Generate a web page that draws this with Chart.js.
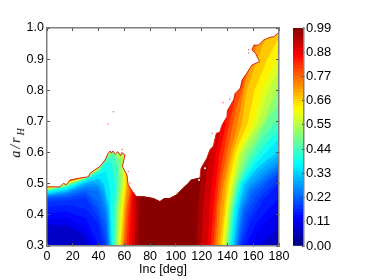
<!DOCTYPE html>
<html>
<head>
<meta charset="utf-8">
<script src="https://cdn.jsdelivr.net/npm/chart.js@4"></script>
<style>
  html, body { margin: 0; padding: 0; background: #fff; }
  #wrap { position: relative; width: 374px; height: 280px; overflow: hidden; }
  #map { position: absolute; left: 0; top: 0; filter: blur(0.4px); }
  #bar { position: absolute; left: 285px; top: 0; filter: blur(0.3px); }
  #ylab { position: absolute; left: -13px; top: 133px; width: 60px; text-align: center;
          transform: rotate(-90deg); font: italic 14px "Liberation Serif"; color: #000; letter-spacing: 2px; }
  #ylab sub { font-size: 10px; }
</style>
</head>
<body>
<div id="wrap">
  <canvas id="map" width="300" height="280"></canvas>
  <canvas id="bar" width="89" height="280"></canvas>
  <div id="ylab">a/r<sub>H</sub></div>
</div>
<script>
// tick labels
const incTicks = [0, 20, 40, 60, 80, 100, 120, 140, 160, 180];
const radiusTicks = [0.3, 0.4, 0.5, 0.6, 0.7, 0.8, 0.9, 1.0];
const colorTicks = [0, 0.11, 0.22, 0.33, 0.44, 0.55, 0.66, 0.77, 0.88, 0.99];

// stability limit [inc, a/rH]
const stabilityEdge = [[0,.49],[10,.49],[12.7,.501],[15,.497],[18,.512],[25.6,.518],[32,.522],[33.5,.534],[37,.544],[41,.555],[45,.576],[47.5,.598],[49,.605],[50,.598],[51,.605],[53,.595],[55,.603],[57,.59],[58,.6],[60.5,.592],[58.5,.555],[62,.528],[63,.496],[66.6,.474],[69.6,.458],[75,.458],[82.5,.452],[87.6,.442],[91,.452],[95,.452],[100.6,.464],[105.6,.485],[109.6,.5],[112,.512],[118.7,.518],[119.5,.55],[124,.582],[126.5,.61],[129,.62],[131.4,.662],[134,.665],[136,.69],[139.6,.715],[140,.735],[144.8,.769],[146,.79],[150,.807],[151.4,.833],[155,.855],[159,.881],[165,.892],[161.7,.919],[159,.93],[160.5,.945],[164,.945],[168,.961],[173,.97],[176,.972],[179,.983],[180,.985]];
const redSpecks = [[51.5,.731],[47.5,.692],[58.4,.61],[63,.539],[64.4,.502],[156.5,.93],[156.5,.92],[168,.96],[141.7,.771],[136.5,.76],[128,.662]];
const whiteSpecks = [[115.6,.555],[122.6,.55],[118,.512],[121,.582]];

// filled contours, one list per level: value stays under the level below the line
const contourLevels = [0.08, 0.12, 0.14, 0.16, 0.18, 0.20, 0.22, 0.24, 0.26, 0.28, 0.30, 0.32, 0.36, 0.40, 0.44, 0.48, 0.52, 0.56, 0.60, 0.64, 0.68, 0.72, 0.76, 0.80, 0.84, 0.88, 0.92, 0.96];
const level08 = [[0,.37],[15,.365],[28,.34],[33,.3],[164,.3],[175,.34],[180,.36]];
const level12 = [[0,.39],[15,.39],[30,.36],[37,.3],[157,.3],[168,.37],[180,.415]];
const level14 = [[0,.405],[15,.41],[30,.39],[38,.32],[40,.3],[154,.3],[162,.37],[170,.41],[180,.455]];
const level16 = [[0,.425],[15,.432],[30,.42],[40,.37],[43,.3],[151,.3],[158,.38],[168,.45],[180,.5]];
const level18 = [[0,.443],[15,.447],[30,.455],[40,.39],[45,.31],[45,.3],[150,.3],[156,.39],[165,.455],[176,.5],[180,.52]];
const level20 = [[0,.451],[15,.455],[30,.468],[40,.415],[45,.34],[46,.3],[149,.3],[154,.4],[162,.46],[173,.51],[180,.535]];
const level22 = [[0,.456],[15,.46],[30,.477],[40,.44],[46,.36],[47,.3],[148.2,.3],[153,.41],[160,.47],[172,.515],[180,.545]];
const level24 = [[0,.459],[15,.465],[30,.484],[40,.475],[46,.39],[47.5,.3],[147.5,.3],[152,.42],[159,.48],[170,.52],[180,.555]];
const level26 = [[0,.461],[15,.469],[30,.49],[40,.49],[46,.42],[48,.3],[146.8,.3],[151,.42],[157,.485],[168,.525],[180,.565]];
const level28 = [[0,.463],[15,.472],[30,.496],[38,.5],[44,.47],[47.5,.39],[48.5,.3],[146,.3],[150,.42],[156,.49],[166,.53],[180,.575]];
const level30 = [[0,.465],[15,.475],[30,.5],[39,.51],[44,.485],[48,.41],[49,.3],[145.2,.3],[149,.42],[154.5,.495],[164.5,.54],[180,.59]];
const level32 = [[0,.467],[15,.479],[30,.505],[40,.517],[44,.5],[48,.43],[49.5,.3],[144.5,.3],[148,.42],[153,.5],[163,.55],[172,.58],[180,.605]];
const level36 = [[0,.473],[15,.485],[30,.511],[40,.53],[46,.54],[49,.48],[50.5,.3],[143,.3],[146,.42],[151,.5],[161,.56],[170,.6],[180,.645]];
const level40 = [[0,.476],[15,.489],[30,.514],[40,.538],[46,.565],[50,.57],[53,.5],[52,.42],[51.5,.3],[142,.3],[145,.42],[149.5,.5],[159,.57],[168,.62],[180,.675]];
const level44 = [[0,.478],[15,.492],[30,.516],[40,.542],[46,.58],[52,.59],[55,.55],[55,.5],[53.5,.42],[52.5,.3],[141,.3],[144,.42],[148,.5],[157,.58],[166,.64],[180,.71]];
const level48 = [[0,.48],[15,.495],[30,.518],[40,.545],[46,.585],[52,.6],[56,.57],[56,.5],[54.5,.42],[53.5,.3],[140,.3],[143,.42],[147,.5],[155,.59],[162,.635],[170,.7],[180,.76]];
const level52 = [[0,.482],[15,.497],[30,.519],[40,.548],[46,.59],[52,.61],[58,.58],[57.5,.5],[55.5,.42],[54.5,.3],[139,.3],[142,.42],[145.5,.5],[153,.6],[160,.65],[167,.69],[178,.8],[180,.81]];
const level56 = [[0,.483],[15,.5],[30,.52],[40,.55],[46,.595],[52,.62],[59,.6],[59,.5],[57,.42],[55.5,.3],[138,.3],[141,.42],[144,.5],[150,.6],[156,.645],[163,.69],[172,.8],[180,.87]];
const level60 = [[0,.484],[15,.5],[30,.52],[40,.55],[46,.6],[52,.63],[60,.6],[60,.5],[58,.42],[56.5,.3],[136.5,.3],[139.5,.42],[142.5,.5],[148,.6],[153,.64],[159.5,.69],[166.5,.8],[178,.9],[180,.92]];
const level64 = [[0,.486],[30,.521],[40,.551],[46,.6],[55,.65],[61,.6],[61,.5],[59,.42],[57,.3],[135.5,.3],[138.5,.42],[141,.5],[146,.6],[151,.65],[155.5,.69],[161,.8],[171,.9],[180,.97]];
const level68 = [[0,.487],[30,.522],[40,.552],[46,.6],[55,.65],[62,.6],[62,.5],[60,.42],[58,.3],[134,.3],[137,.42],[139,.5],[144,.6],[149,.665],[151,.69],[155,.8],[163,.9],[170,.97],[180,1.02]];
const level72 = [[0,.488],[30,.522],[40,.553],[46,.6],[55,.65],[63,.55],[63,.5],[61,.42],[59,.3],[132,.3],[134.5,.42],[137,.5],[142,.6],[146.5,.665],[150,.74],[154,.83],[160,.9],[166,1],[180,1.1]];
const level76 = [[0,.489],[30,.523],[40,.554],[46,.61],[55,.65],[64,.55],[64,.47],[62,.42],[60,.3],[130.5,.3],[132.5,.42],[135,.5],[139.5,.6],[143,.665],[146,.73],[152,.81],[160,.96],[180,1.25]];
const level80 = [[0,.49],[30,.524],[40,.555],[46,.61],[55,.65],[65,.55],[65,.47],[63.5,.42],[61.5,.3],[129,.3],[131,.42],[133,.5],[137,.6],[140,.665],[143,.72],[150,.85],[180,1.3]];
const level84 = [[0,.491],[30,.525],[40,.556],[46,.61],[55,.65],[66,.55],[66,.47],[65,.42],[63.5,.3],[127,.3],[129,.42],[131,.5],[134,.6],[137,.655],[139,.7],[147,.85],[180,1.3]];
const level88 = [[0,.492],[30,.527],[40,.558],[46,.61],[55,.65],[67,.55],[67,.47],[67,.42],[66,.3],[125,.3],[126,.42],[128,.5],[131,.6],[134,.66],[136,.7],[144,.85],[180,1.3]];
const level92 = [[0,.495],[30,.53],[46,.62],[55,.65],[69,.46],[69,.42],[68,.3],[120,.3],[121,.42],[123,.5],[126,.6],[131,.68],[140,.85],[180,1.3]];
const level96 = [[0,.5],[30,.535],[46,.62],[55,.65],[72,.46],[71.5,.42],[71,.3],[116,.3],[117,.42],[119,.5],[122,.6],[128,.7],[135,.85],[180,1.3]];
const contours = [level08, level12, level14, level16, level18, level20, level22, level24, level26, level28, level30, level32, level36, level40, level44, level48, level52, level56, level60, level64, level68, level72, level76, level80, level84, level88, level92, level96];

const GREY = '#7f7f7f';
const FONT = 'Liberation Sans';

// MATLAB jet, 0..0.99
function jet(v) {
  const t = v / 0.99;
  const c = x => Math.round(255 * Math.max(0, Math.min(1, x)));
  const r = c(Math.min(4 * t - 1.5, -4 * t + 4.5));
  const g = c(Math.min(4 * t - 0.5, -4 * t + 3.5));
  const b = c(Math.min(4 * t + 0.5, -4 * t + 2.5));
  return `rgb(${r},${g},${b})`;
}

function frameAxis(position, min, max, ticks, showLabels) {
  return {
    type: 'linear',
    position: position,
    min: min,
    max: max,
    afterBuildTicks: s => { s.ticks = ticks.map(v => ({ value: v })); },
    border: { display: true, color: GREY, width: 1.5, z: 2 },
    grid: { drawOnChartArea: false, drawTicks: true, tickLength: -3, tickColor: '#555', tickWidth: 1, z: 2 },
    ticks: {
      display: showLabels,
      padding: 6,
      color: '#000',
      maxRotation: 0,
      autoSkip: false,
      font: { family: FONT, size: 12.5 },
      callback: v => (position === 'left' ? v.toFixed(1) : v)
    }
  };
}

// datasets draw last to first, so the white limit comes first and low levels sit on top
const mapDatasets = [
  { data: whiteSpecks, showLine: false, pointRadius: 1, pointBackgroundColor: '#fff', pointBorderWidth: 0 },
  { data: redSpecks, showLine: false, pointRadius: 0.7, pointBackgroundColor: '#e8604c', pointBorderWidth: 0 },
  // the rim over the dark red part does not show as bright red
  { data: stabilityEdge.filter(p => p[0] > 67 && p[0] < 119), showLine: true, fill: false, borderColor: '#8a0a00', borderWidth: 1.2, pointRadius: 0 },
  { data: stabilityEdge, showLine: true, fill: 'end', backgroundColor: '#fff', borderColor: '#d9230f', borderWidth: 1, pointRadius: 0 }
];
contours.forEach((c, i) => {
  mapDatasets.push({ data: c, showLine: true, fill: 'start', backgroundColor: jet(contourLevels[i] - 0.01), borderWidth: 0, pointRadius: 0 });
});
mapDatasets.push({ data: [[0, 1], [180, 1]], showLine: true, fill: 'start', backgroundColor: jet(0.98), borderWidth: 0, pointRadius: 0 });

const xAxis = frameAxis('bottom', 0, 180, incTicks, true);
// the "0" and "180" labels may hang past the plot, no padding for them
xAxis.afterFit = s => { s.height = 34; s.paddingLeft = 0; s.paddingRight = 0; };
xAxis.title = { display: true, text: 'Inc [deg]', color: '#000', font: { family: FONT, size: 12.5 }, padding: { top: 0, bottom: 3 } };
const yAxis = frameAxis('left', 0.3, 1, radiusTicks, true);
yAxis.afterFit = s => { s.width = 47; s.paddingTop = 0; s.paddingBottom = 0; };
const xTop = frameAxis('top', 0, 180, incTicks, false);
xTop.afterFit = s => { s.height = 0; };
const yRight = frameAxis('right', 0.3, 1, radiusTicks, false);
yRight.afterFit = s => { s.width = 0; };

new Chart(document.getElementById('map'), {
  type: 'scatter',
  data: { datasets: mapDatasets },
  options: {
    responsive: false,
    animation: false,
    layout: { autoPadding: false, padding: { top: 28, right: 21, left: 0, bottom: 0 } },
    plugins: { legend: { display: false }, tooltip: { enabled: false } },
    scales: { x: xAxis, y: yAxis, xTop: xTop, yRight: yRight }
  }
});

// colour bar, 64 steps like the colormap
const barSteps = [];
for (let i = 0; i < 64; i++) barSteps.push(i);
new Chart(document.getElementById('bar'), {
  type: 'bar',
  data: {
    labels: ['c'],
    datasets: barSteps.map(i => ({
      data: [[i * 0.99 / 64, (i + 1) * 0.99 / 64]],
      backgroundColor: jet((i + 0.5) * 0.99 / 64),
      barPercentage: 1,
      categoryPercentage: 1,
      grouped: false
    }))
  },
  options: {
    responsive: false,
    animation: false,
    layout: { autoPadding: false, padding: { top: 28, bottom: 34, left: 8, right: 0 } },
    plugins: { legend: { display: false }, tooltip: { enabled: false } },
    scales: {
      x: { display: true, offset: true, grid: { display: false }, border: { display: false }, ticks: { display: false }, afterFit: s => { s.height = 0; } },
      y: {
        position: 'right',
        min: 0,
        max: 0.99,
        afterBuildTicks: s => { s.ticks = colorTicks.map(v => ({ value: v })); },
        afterFit: s => { s.width = 70; s.paddingTop = 0; s.paddingBottom = 0; },
        border: { display: true, color: GREY, width: 1.5, z: 2 },
        grid: { drawOnChartArea: false, drawTicks: true, tickLength: -2, tickColor: '#333', z: 2 },
        ticks: { padding: 4, color: '#000', autoSkip: false, font: { family: FONT, size: 13 }, callback: v => v.toFixed(2) }
      }
    }
  }
});
</script>
</body>
</html>
